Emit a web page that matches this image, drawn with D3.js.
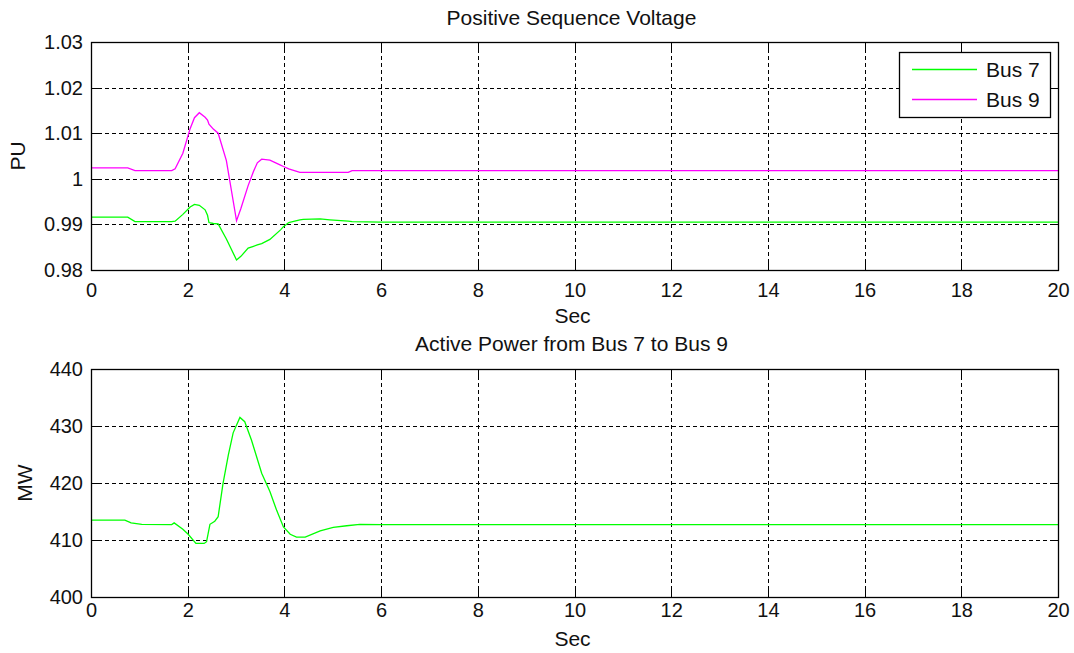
<!DOCTYPE html>
<html>
<head>
<meta charset="utf-8">
<script src="https://cdn.jsdelivr.net/npm/d3@7"></script>
<style>
  html, body { margin: 0; padding: 0; background: #ffffff; }
  svg { display: block; }
  text { font-family: Arial, "Liberation Sans", sans-serif; fill: #111; }
</style>
</head>
<body>
<svg id="chart" width="1074" height="653"></svg>
<script>
// Time samples (s) and positive-sequence voltages (pu)
const voltTime = [0, 0.76, 0.91, 1.67, 1.74, 1.90, 2.05, 2.14, 2.24, 2.36, 2.41, 2.44, 2.53, 2.63, 2.80, 3.01, 3.10, 3.25, 3.36, 3.44, 3.53, 3.70, 3.92, 3.98, 4.09, 4.32, 4.39, 4.74, 4.94, 5.32, 5.40, 6, 20];
const bus7 = [0.9916, 0.9916, 0.9906, 0.9906, 0.9907, 0.9922, 0.9938, 0.9944, 0.9942, 0.9932, 0.9920, 0.9904, 0.9902, 0.9901, 0.9868, 0.9822, 0.9830, 0.9848, 0.9852, 0.9855, 0.9858, 0.9867, 0.9888, 0.9895, 0.9904, 0.9910, 0.9911, 0.9912, 0.9910, 0.9907, 0.9906, 0.9905, 0.9905];
const bus9 = [1.0024, 1.0024, 1.0018, 1.0018, 1.0022, 1.0056, 1.0110, 1.0134, 1.0145, 1.0135, 1.0129, 1.0120, 1.0109, 1.0100, 1.0040, 0.9908, 0.9935, 0.9985, 1.0016, 1.0035, 1.0043, 1.0041, 1.0030, 1.0027, 1.0022, 1.0014, 1.0014, 1.0014, 1.0014, 1.0014, 1.0018, 1.0018, 1.0018];

// Active power flow from bus 7 to bus 9 (MW)
const powerTime = [0, 0.70, 0.83, 1.05, 1.67, 1.72, 1.90, 2.01, 2.17, 2.34, 2.39, 2.46, 2.56, 2.63, 2.73, 2.84, 2.94, 3.08, 3.18, 3.32, 3.53, 3.70, 3.84, 3.98, 4.12, 4.25, 4.43, 4.74, 5.01, 5.29, 5.56, 6, 20];
const power = [413.5, 413.5, 413.0, 412.75, 412.7, 413.0, 411.9, 411.0, 409.4, 409.4, 409.7, 412.75, 413.3, 414.1, 419.9, 424.9, 428.8, 431.5, 430.75, 427.5, 421.7, 418.5, 415.2, 412.3, 411.0, 410.5, 410.5, 411.6, 412.2, 412.5, 412.75, 412.7, 412.7];

const xTicks = [0, 2, 4, 6, 8, 10, 12, 14, 16, 18, 20];
const voltTicks = [0.98, 0.99, 1.00, 1.01, 1.02, 1.03];
const voltTickLabels = ["0.98", "0.99", "1", "1.01", "1.02", "1.03"];
const powerTicks = [400, 410, 420, 430, 440];

const seriesNames = ["Bus 7", "Bus 9"];
const seriesColors = ["#00ff00", "#ff00ff"];

const svg = d3.select("#chart");
const FONT = "Arial, 'Liberation Sans', sans-serif";

function drawPanel(cfg) {
  const { top, bottom, left, right, yDomain, yTicks, yLabels, title, yTitle, series } = cfg;
  const x = d3.scaleLinear().domain([0, 20]).range([left, right]);
  const y = d3.scaleLinear().domain(yDomain).range([bottom, top]);
  const g = svg.append("g");

  // dashed grid
  g.append("g").selectAll("line").data(xTicks.slice(1, -1)).join("line")
    .attr("x1", d => Math.round(x(d)) + 0.5).attr("x2", d => Math.round(x(d)) + 0.5)
    .attr("y1", top).attr("y2", bottom)
    .attr("stroke", "#000").attr("stroke-dasharray", "4,3").attr("stroke-width", 1);
  g.append("g").selectAll("line").data(yTicks.slice(1, -1)).join("line")
    .attr("y1", d => Math.round(y(d)) + 0.5).attr("y2", d => Math.round(y(d)) + 0.5)
    .attr("x1", left).attr("x2", right)
    .attr("stroke", "#000").attr("stroke-dasharray", "4,3").attr("stroke-width", 1);

  // inward tick marks on all four sides
  const tl = 8;
  const tg = g.append("g").attr("stroke", "#000").attr("stroke-width", 1);
  xTicks.forEach(d => {
    const px = Math.round(x(d)) + 0.5;
    tg.append("line").attr("x1", px).attr("x2", px).attr("y1", bottom).attr("y2", bottom - tl);
    tg.append("line").attr("x1", px).attr("x2", px).attr("y1", top).attr("y2", top + tl);
  });
  yTicks.forEach(d => {
    const py = Math.round(y(d)) + 0.5;
    tg.append("line").attr("y1", py).attr("y2", py).attr("x1", left).attr("x2", left + tl);
    tg.append("line").attr("y1", py).attr("y2", py).attr("x1", right).attr("x2", right - tl);
  });

  // data lines
  const line = d3.line().x(d => x(d[0])).y(d => y(d[1]));
  series.forEach(s => {
    g.append("path")
      .datum(s.t.map((t, i) => [t, s.v[i]]))
      .attr("d", line)
      .attr("fill", "none")
      .attr("stroke", s.color)
      .attr("stroke-width", 1.3);
  });

  // axes box
  g.append("rect")
    .attr("x", left + 0.5).attr("y", top + 0.5)
    .attr("width", right - left).attr("height", bottom - top)
    .attr("fill", "none").attr("stroke", "#000").attr("stroke-width", 1.3);

  // tick labels via d3 axes (tick lines drawn above)
  const xAxis = g.append("g").attr("transform", `translate(0,${bottom})`)
    .call(d3.axisBottom(x).tickValues(xTicks).tickFormat(d3.format("d")).tickSize(0).tickPadding(0));
  xAxis.select(".domain").remove();
  xAxis.selectAll("text")
    .attr("dy", null).attr("y", cfg.xLabelBase)
    .style("font-size", "20px").style("font-family", FONT).attr("fill", "#111");

  const yAxis = g.append("g").attr("transform", `translate(${left},0)`)
    .call(d3.axisLeft(y).tickValues(yTicks).tickFormat((d, i) => yLabels[i]).tickSize(0).tickPadding(8));
  yAxis.select(".domain").remove();
  yAxis.selectAll("text")
    .style("font-size", "20px").style("font-family", FONT).attr("fill", "#111");

  // titles
  g.append("text").attr("x", (left + right) / 2 - 3).attr("y", cfg.titleBase)
    .attr("text-anchor", "middle").style("font-size", "21px").text(title);
  g.append("text").attr("x", (left + right) / 2 - 2).attr("y", cfg.secBase)
    .attr("text-anchor", "middle").style("font-size", "21px").text("Sec");
  g.append("text")
    .attr("transform", `translate(${cfg.yTitleX},${(top + bottom) / 2}) rotate(-90)`)
    .attr("text-anchor", "middle").style("font-size", "21px").text(yTitle);
  return { x, y, g };
}

drawPanel({
  top: 42, bottom: 270, left: 91, right: 1058,
  yDomain: [0.98, 1.03], yTicks: voltTicks, yLabels: voltTickLabels,
  title: "Positive Sequence Voltage", yTitle: "PU", yTitleX: 25,
  titleBase: 25, xLabelBase: 27, secBase: 323,
  series: [
    { t: voltTime, v: bus7, color: seriesColors[0] },
    { t: voltTime, v: bus9, color: seriesColors[1] }
  ]
});

drawPanel({
  top: 369, bottom: 597, left: 91, right: 1058,
  yDomain: [400, 440], yTicks: powerTicks, yLabels: powerTicks.map(String),
  title: "Active Power from Bus 7 to Bus 9", yTitle: "MW", yTitleX: 32,
  titleBase: 351, xLabelBase: 20, secBase: 646,
  series: [
    { t: powerTime, v: power, color: seriesColors[0] }
  ]
});

// legend
const lg = svg.append("g");
lg.append("rect").attr("x", 899.5).attr("y", 52.5).attr("width", 151).attr("height", 65)
  .attr("fill", "#fff").attr("stroke", "#000").attr("stroke-width", 1.3);
seriesNames.forEach((name, i) => {
  const yy = 69.5 + i * 30;
  lg.append("line").attr("x1", 912).attr("x2", 977).attr("y1", yy).attr("y2", yy)
    .attr("stroke", seriesColors[i]).attr("stroke-width", 1.5);
  lg.append("text").attr("x", 986).attr("y", yy + 7.5).style("font-size", "21px").text(name);
});
</script>
</body>
</html>
